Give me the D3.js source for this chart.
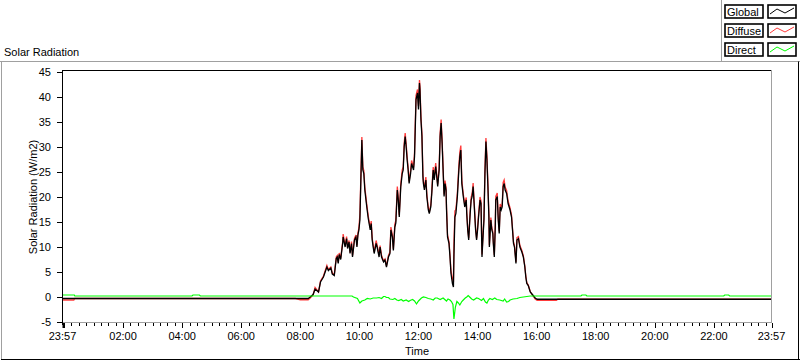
<!DOCTYPE html>
<html><head><meta charset="utf-8">
<script src="https://cdn.jsdelivr.net/npm/d3@7"></script>
<style>
html,body{margin:0;padding:0;background:#fff;}
svg{display:block;font-family:"Liberation Sans",Arial,sans-serif;font-size:11px;}
</style></head>
<body><svg id="c" width="800" height="361"></svg>
<script>
// ---- DATA ----
const chartTitle = "Solar Radiation";
const yAxisTitle = "Solar Radiation (W/m2)";
const xAxisTitle = "Time";
const seriesNames = ["Global", "Diffuse", "Direct"];
const seriesColors = ["#000000", "#ff3b3b", "#00ff00"];
// minutes since midnight (-3 = 23:57 of the previous day, 1437 = 23:57)
const minutes = [-3,20,22,470,480,496,500,506,510,517,521,527,534,537,542,545,549,553,555,557,559,562,566,567,571,574,576,579,581,584,586,590,593,595,597,599,601,605,607,609,611,615,618,622,624,626,628,630,634,636,640,642,645,649,652,655,659,662,664,667,669,672,674,677,679,681,684,687,689,691,693,695,697,699,701,704,706,710,712,715,718,720,722,723,725,727,729,730,732,735,737,740,742,745,747,749,750,752,755,757,759,762,764,766,768,770,772,774,776,777,779,782,784,786,789,791,792,794,796,799,802,804,806,808,811,814,817,818,820,822,825,827,829,831,833,836,838,840,842,845,847,849,850,853,855,857,859,861,863,864,867,869,871,872,874,876,877,880,882,884,886,888,890,892,894,896,899,902,906,909,911,913,915,918,920,923,926,930,933,936,938,940,943,947,950,953,957,961,1000,1003,1437];
const globalValues = [-0.3,-0.3,-0.3,-0.3,-0.3,-0.3,0.0,0.5,1.6,1.0,3.0,4.0,6.0,5.3,5.8,4.6,4.3,7.7,8.0,6.7,8.5,7.5,10.7,12.0,10.0,11.7,9.7,11.0,8.7,10.7,8.0,11.4,12.0,10.0,12.4,13.4,15.4,31.4,25.4,24.7,21.4,18.0,15.7,13.4,14.7,11.4,10.0,8.7,10.7,10.0,8.0,10.0,8.0,7.0,7.4,6.0,8.0,8.7,13.4,12.0,9.3,14.0,14.8,21.4,19.4,16.0,22.0,24.7,25.4,30.1,32.1,30.0,27.4,25.4,22.7,24.7,26.7,25.4,28.1,39.5,40.8,37.5,42.8,41.5,35.5,32.1,24.1,22.7,21.4,23.4,20.1,17.4,16.7,18.0,20.7,24.1,25.4,23.4,26.1,24.1,22.1,25.4,32.1,34.8,30.8,25.4,20.1,22.7,21.4,17.4,12.0,10.7,8.0,4.7,2.7,2.0,8.0,16.0,16.7,20.1,25.4,28.1,29.4,22.7,20.1,18.0,19.4,16.7,13.4,11.4,16.7,19.4,20.1,22.1,18.7,13.4,11.4,13.4,16.0,19.4,18.7,8.0,10.0,15.4,24.7,31.1,27.4,22.1,16.0,10.0,15.4,13.4,12.7,10.7,8.0,14.0,19.4,20.1,15.4,12.7,18.0,17.4,18.0,22.1,22.7,21.4,20.7,18.7,17.4,16.0,13.4,10.7,10.0,6.7,11.4,11.7,10.0,9.0,8.0,6.0,4.0,2.7,2.3,1.0,0.65,0.3,-0.2,-0.45,-0.45,-0.45,-0.45];
const diffuseValues = [-0.6,-0.6,-0.3,-0.3,-0.55,-0.55,-0.2,0.4,1.9,1.0,3.2,4.2,6.3,5.5,6.0,4.8,4.5,8.0,8.3,6.9,8.8,7.7,11.0,12.6,10.3,12.1,9.9,11.3,8.9,11.1,8.3,11.7,12.4,10.3,12.8,13.8,16.5,32.0,26.0,25.3,22.0,18.5,16.2,13.8,15.2,11.8,10.4,9.0,11.3,10.4,8.3,10.3,8.3,7.2,7.6,6.2,8.3,9.0,14.0,12.4,9.6,14.6,15.3,22.1,19.9,16.4,22.6,25.4,26.0,30.8,32.8,30.6,28.0,25.9,23.1,25.3,27.3,25.9,28.8,40.3,41.5,38.2,43.4,42.2,36.1,32.7,24.6,23.1,21.9,24.0,20.5,17.8,17.0,18.4,21.2,24.7,26.0,23.9,26.8,24.6,22.5,26.0,32.8,35.5,31.4,25.9,20.5,23.3,21.9,17.8,12.4,11.1,8.4,5.3,3.6,3.0,10.5,17.2,17.5,20.8,26.2,29.0,30.3,23.4,20.6,18.4,19.9,17.0,13.7,11.8,17.2,20.0,20.7,22.8,19.2,13.8,11.7,13.8,16.5,20.0,19.2,8.5,10.4,16.0,25.5,31.8,28.2,22.8,16.5,10.4,15.9,13.8,13.1,11.1,8.4,14.6,20.1,20.8,15.9,13.1,18.6,17.9,18.5,22.9,23.4,22.0,21.3,19.2,17.8,16.4,13.7,11.0,10.3,7.0,11.9,12.1,10.3,9.3,8.2,6.2,4.2,2.9,2.4,1.1,0.6,0.2,-0.4,-0.65,-0.65,-0.45,-0.45];
const directMinutes = [-3,21,22,260,262,275,277,585,588,596,601,605,611,616,622,628,635,640,645,649,652,655,659,662,668,672,676,680,685,689,695,700,703,708,712,716,720,723,726,730,735,740,745,750,754,758,764,770,777,780,784,787,790,792,795,798,801,804,808,811,815,818,821,825,828,832,838,842,848,852,856,859,862,865,870,875,879,885,892,895,899,903,906,912,920,926,933,947,1050,1052,1060,1062,1340,1342,1350,1352,1437];
const directValues = [0.4,0.4,0.2,0.2,0.4,0.4,0.2,0.2,0.0,-0.3,-1.2,-0.8,-0.6,-0.3,-0.4,-0.2,-0.2,-0.1,-0.3,0.1,0.1,-0.1,-0.1,-0.4,-0.5,-0.3,-0.6,-0.7,-0.5,-0.8,-0.6,-0.9,-0.7,-0.5,-0.8,-1.4,-0.8,-0.5,-0.2,0.0,-0.1,-0.3,-0.4,-0.6,-0.2,-0.2,-0.5,-0.2,-0.8,-0.4,-0.6,-0.9,-1.5,-4.4,-2.0,-0.9,-1.2,-1.6,-0.9,-0.6,-0.2,0.0,0.3,-0.1,-0.4,-0.6,-0.2,-0.3,-0.7,-0.3,-1.0,-1.2,-0.6,-0.3,-0.5,-0.2,-0.5,-0.6,-0.8,-0.4,-1.0,-0.9,-0.6,-0.4,-0.3,-0.1,0.0,0.2,0.2,0.4,0.4,0.2,0.2,0.4,0.4,0.2,0.2];
const yTicks = [-5,0,5,10,15,20,25,30,35,40,45];
const xTickMinutes = [-3,120,240,360,480,600,720,840,960,1080,1200,1320,1437];
const xTickLabels = ["23:57","02:00","04:00","06:00","08:00","10:00","12:00","14:00","16:00","18:00","20:00","22:00","23:57"];

// ---- DRAW ----
const svg = d3.select("#c");
const x = d3.scaleLinear().domain([-3, 1437]).range([62.5, 771.5]);
const y = d3.scaleLinear().domain([-5, 45]).range([322, 72]);

// outer frame
svg.append("line").attr("x1",0).attr("x2",800).attr("y1",61.5).attr("y2",61.5).attr("stroke","#a0a0a0");
svg.append("line").attr("x1",1.5).attr("x2",1.5).attr("y1",61.5).attr("y2",360).attr("stroke","#a0a0a0");
svg.append("line").attr("x1",1).attr("x2",800).attr("y1",359.5).attr("y2",359.5).attr("stroke","#000");
svg.append("line").attr("x1",798.5).attr("x2",798.5).attr("y1",61.5).attr("y2",360).attr("stroke","#000");
svg.append("text").attr("x",4).attr("y",56).text(chartTitle);

// legend panel
svg.append("line").attr("x1",721.5).attr("x2",721.5).attr("y1",0).attr("y2",61.5).attr("stroke","#a0a0a0");
seriesNames.forEach((name,i)=>{
  const top = 4 + i*19;
  const g = svg.append("g");
  g.append("rect").attr("x",725).attr("y",top+1).attr("width",38).attr("height",13)
    .attr("fill","#fff").attr("stroke","#000").attr("stroke-width",1.6);
  g.append("text").attr("x",727).attr("y",top+12).text(name);
  g.append("rect").attr("x",768).attr("y",top+1).attr("width",28).attr("height",13)
    .attr("fill","#fff").attr("stroke","#000").attr("stroke-width",1.6);
  const sw = [[770,top+10],[777,top+5],[785,top+9],[794,top+4]];
  g.append("path").attr("d",d3.line()(sw)).attr("fill","none").attr("stroke",seriesColors[i]).attr("stroke-width",1);
});

// plot frame
svg.append("line").attr("x1",62).attr("x2",772).attr("y1",70.5).attr("y2",70.5).attr("stroke","#000");
svg.append("line").attr("x1",771.5).attr("x2",771.5).attr("y1",70).attr("y2",323).attr("stroke","#a0a0a0");
svg.append("line").attr("x1",62).attr("x2",772).attr("y1",322.5).attr("y2",322.5).attr("stroke","#a0a0a0");
svg.append("line").attr("x1",62.5).attr("x2",62.5).attr("y1",70).attr("y2",325).attr("stroke","#000");

// y axis ticks
const yg = svg.append("g");
yTicks.forEach(v=>{
  yg.append("line").attr("x1",57).attr("x2",62).attr("y1",Math.round(y(v))+0.5).attr("y2",Math.round(y(v))+0.5).attr("stroke","#000");
  yg.append("text").attr("x",51).attr("y",y(v)+4).attr("text-anchor","end").text(v);
});
svg.append("text").attr("transform",`translate(37,${(72+322)/2}) rotate(-90)`).attr("text-anchor","middle").text(yAxisTitle);

// x axis ticks
const xg = svg.append("g");
d3.range(0, 1437, 15).forEach(m=>{
  const major = m % 120 === 0;
  xg.append("line").attr("x1",Math.round(x(m))+0.5).attr("x2",Math.round(x(m))+0.5)
    .attr("y1",323).attr("y2",major?328:326).attr("stroke","#000");
});
[-3,1437].forEach(m=>{
  xg.append("line").attr("x1",Math.round(x(m))+0.5).attr("x2",Math.round(x(m))+0.5)
    .attr("y1",323).attr("y2",328).attr("stroke","#000").attr("stroke-width",m<0?2:1);
});
xTickMinutes.forEach((m,i)=>{
  xg.append("text").attr("x",x(m)).attr("y",340).attr("text-anchor","middle").text(xTickLabels[i]);
});
svg.append("text").attr("x",(62.5+771.5)/2).attr("y",355).attr("text-anchor","middle").text(xAxisTitle);

// data
svg.append("clipPath").attr("id","pc").append("rect").attr("x",63).attr("y",71).attr("width",708).attr("height",251);
const line = d3.line().x(d=>x(d[0])).y(d=>y(d[1]));
const plotG = svg.append("g").attr("clip-path","url(#pc)");
const diffuse = minutes.map((m,i)=>[m,diffuseValues[i]]);
const global = minutes.map((m,i)=>[m,globalValues[i]]);
const direct = directMinutes.map((m,i)=>[m,directValues[i]]);
plotG.append("path").attr("d",line(diffuse)).attr("fill","none").attr("stroke",seriesColors[1]).attr("stroke-width",1.3);
plotG.append("path").attr("d",line(global)).attr("fill","none").attr("stroke",seriesColors[0]).attr("stroke-width",1.3);
plotG.append("path").attr("d",line(direct)).attr("fill","none").attr("stroke",seriesColors[2]).attr("stroke-width",1.2);
</script></body></html>
